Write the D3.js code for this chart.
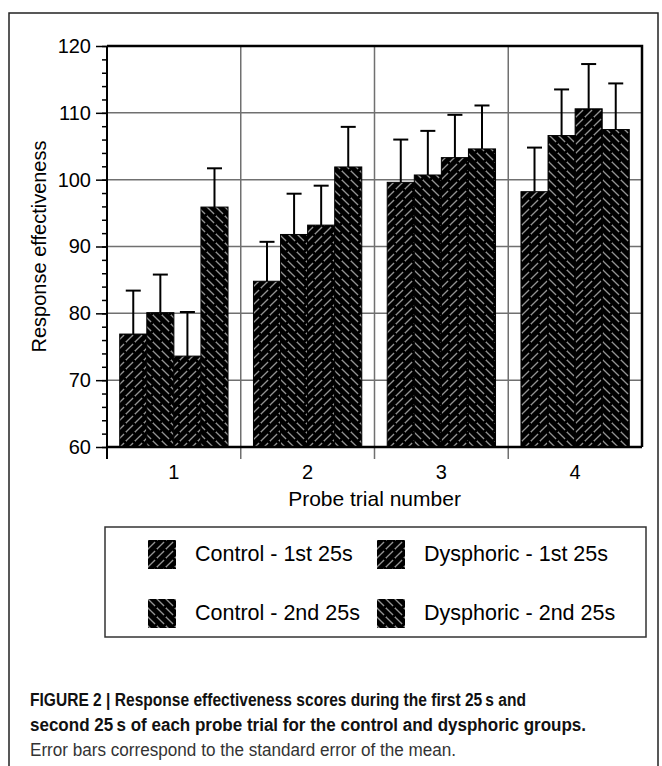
<!DOCTYPE html>
<html>
<head>
<meta charset="utf-8">
<script src="https://cdn.jsdelivr.net/npm/d3@7"></script>
<style>
  body { margin: 0; background: #fff; }
  text { font-family: "Liberation Sans", Arial, Helvetica, sans-serif; }
</style>
</head>
<body>
<div id="chart"></div>
<script>
// data
const groups = ['1', '2', '3', '4']
const seriesNames = ['Control - 1st 25s', 'Control - 2nd 25s', 'Dysphoric - 1st 25s', 'Dysphoric - 2nd 25s']
const control1st = [76.9, 84.8, 99.6, 98.2]
const control2nd = [80.1, 91.8, 100.7, 106.6]
const dysphoric1st = [73.6, 93.2, 103.3, 110.6]
const dysphoric2nd = [95.9, 101.9, 104.6, 107.5]
const control1stErr = [6.5, 5.9, 6.4, 6.6]
const control2ndErr = [5.7, 6.1, 6.6, 6.9]
const dysphoric1stErr = [6.6, 5.9, 6.4, 6.7]
const dysphoric2ndErr = [5.8, 6.0, 6.5, 6.9]
const yTicks = [60, 70, 80, 90, 100, 110, 120]
const captionLines = [
    'FIGURE 2 | Response effectiveness scores during the first 25\u2009s and',
    'second 25\u2009s of each probe trial for the control and dysphoric groups.',
    'Error bars correspond to the standard error of the mean.'
]

const W = 662
const H = 766
const PLOT = { left: 107, right: 642, top: 46, bottom: 447 }

const seriesValues = [control1st, control2nd, dysphoric1st, dysphoric2nd]
const seriesErrors = [control1stErr, control2ndErr, dysphoric1stErr, dysphoric2ndErr]
const seriesPattern = ['fwd', 'back', 'fwd', 'back']

const rows = []
groups.forEach((g, gi) => {
    seriesNames.forEach((s, si) => {
        rows.push({ group: g, series: s, value: seriesValues[si][gi], err: seriesErrors[si][gi], pat: seriesPattern[si] })
    })
})

const svg = d3.select('#chart')
    .append('svg')
    .attr('width', W)
    .attr('height', H)

// hatch patterns
const defs = svg.append('defs')
const hatch = {
    fwd: 'M0,9 L9,0 M-2,2 L2,-2 M7,11 L11,7',
    back: 'M0,0 L9,9 M-2,7 L2,11 M7,-2 L11,2'
}
Object.keys(hatch).forEach(k => {
    const p = defs.append('pattern')
        .attr('id', 'pat-' + k)
        .attr('patternUnits', 'userSpaceOnUse')
        .attr('width', 9)
        .attr('height', 9)
    p.append('rect').attr('width', 9).attr('height', 9).attr('fill', '#000')
    p.append('path')
        .attr('d', hatch[k])
        .attr('stroke', '#949494')
        .attr('stroke-width', 1.3)
        .attr('stroke-dasharray', '10 2.7')
})

// outer frame (open at the bottom)
svg.append('path')
    .attr('d', `M9,${H} L9,13 L658,13 L658,${H}`)
    .attr('fill', 'none')
    .attr('stroke', '#222')
    .attr('stroke-width', 1.5)

const x0 = d3.scaleBand()
    .domain(groups)
    .range([PLOT.left, PLOT.right])
    .padding(0)

const x1 = d3.scaleBand()
    .domain(seriesNames)
    .range([0, x0.bandwidth()])
    .paddingInner(0)
    .paddingOuter(0.47)

const y = d3.scaleLinear()
    .domain([60, 120])
    .range([PLOT.bottom, PLOT.top])

// grid
svg.append('g')
    .selectAll('line')
    .data(yTicks.filter(d => d > 60 && d < 120))
    .join('line')
    .attr('x1', PLOT.left)
    .attr('x2', PLOT.right)
    .attr('y1', d => y(d))
    .attr('y2', d => y(d))
    .attr('stroke', '#707070')
    .attr('stroke-width', 1.5)

svg.append('g')
    .selectAll('line')
    .data(groups.slice(1))
    .join('line')
    .attr('x1', d => x0(d))
    .attr('x2', d => x0(d))
    .attr('y1', PLOT.top)
    .attr('y2', PLOT.bottom + 12)
    .attr('stroke', '#707070')
    .attr('stroke-width', 1.5)

// bars
const bars = svg.append('g')
bars.selectAll('rect')
    .data(rows)
    .join('rect')
    .attr('x', d => x0(d.group) + x1(d.series))
    .attr('width', x1.bandwidth())
    .attr('y', d => y(d.value))
    .attr('height', d => y(60) - y(d.value))
    .attr('fill', d => `url(#pat-${d.pat})`)
    .attr('stroke', '#000')
    .attr('stroke-width', 1)

// error bars (upper half only)
const errG = svg.append('g').attr('stroke', '#000').attr('stroke-width', 2)
errG.selectAll('line.v')
    .data(rows)
    .join('line')
    .attr('class', 'v')
    .attr('x1', d => x0(d.group) + x1(d.series) + x1.bandwidth() / 2)
    .attr('x2', d => x0(d.group) + x1(d.series) + x1.bandwidth() / 2)
    .attr('y1', d => y(d.value))
    .attr('y2', d => y(d.value + d.err))
errG.selectAll('line.cap')
    .data(rows)
    .join('line')
    .attr('class', 'cap')
    .attr('x1', d => x0(d.group) + x1(d.series) + x1.bandwidth() / 2 - 7.5)
    .attr('x2', d => x0(d.group) + x1(d.series) + x1.bandwidth() / 2 + 7.5)
    .attr('y1', d => y(d.value + d.err))
    .attr('y2', d => y(d.value + d.err))

// plot frame: top + right black, bottom axis, left axis
svg.append('path')
    .attr('d', `M${PLOT.left},${PLOT.top} L${PLOT.right},${PLOT.top} L${PLOT.right},${PLOT.bottom}`)
    .attr('fill', 'none')
    .attr('stroke', '#000')
    .attr('stroke-width', 2.5)

svg.append('line')
    .attr('x1', PLOT.left).attr('x2', PLOT.right)
    .attr('y1', PLOT.bottom).attr('y2', PLOT.bottom)
    .attr('stroke', '#000').attr('stroke-width', 2.5)

svg.append('line')
    .attr('x1', PLOT.left).attr('x2', PLOT.left)
    .attr('y1', PLOT.top).attr('y2', PLOT.bottom + 12)
    .attr('stroke', '#000').attr('stroke-width', 2)

// y axis ticks: minor every 2, major every 10
const yAxisMinor = d3.axisLeft(y).ticks(30).tickSize(5).tickFormat('')
svg.append('g')
    .attr('transform', `translate(${PLOT.left},0)`)
    .call(yAxisMinor)
    .call(g => g.select('.domain').remove())
    .call(g => g.selectAll('line').attr('stroke', '#000').attr('stroke-width', 1.5))

const yAxis = d3.axisLeft(y).tickValues(yTicks).tickSize(11).tickPadding(5)
svg.append('g')
    .attr('transform', `translate(${PLOT.left},0)`)
    .call(yAxis)
    .call(g => g.select('.domain').remove())
    .call(g => g.selectAll('line').attr('stroke', '#000').attr('stroke-width', 1.5))
    .call(g => g.selectAll('text')
        .attr('font-size', 20)
        .attr('fill', '#000')
        .attr('font-family', '"Liberation Sans", Arial, sans-serif'))

// x labels
svg.append('g')
    .selectAll('text')
    .data(groups)
    .join('text')
    .attr('x', d => x0(d) + x0.bandwidth() / 2)
    .attr('y', 479)
    .attr('text-anchor', 'middle')
    .attr('font-size', 20)
    .text(d => d)

svg.append('text')
    .attr('x', (PLOT.left + PLOT.right) / 2)
    .attr('y', 506)
    .attr('text-anchor', 'middle')
    .attr('font-size', 21)
    .text('Probe trial number')

svg.append('text')
    .attr('transform', `translate(46,${(PLOT.top + PLOT.bottom) / 2}) rotate(-90)`)
    .attr('text-anchor', 'middle')
    .attr('font-size', 20)
    .text('Response effectiveness')

// legend
const legendOrder = [0, 2, 1, 3]
const legend = svg.append('g')
legend.append('rect')
    .attr('x', 105)
    .attr('y', 527)
    .attr('width', 541)
    .attr('height', 110)
    .attr('fill', 'none')
    .attr('stroke', '#333')
    .attr('stroke-width', 1.5)

const legendItems = legend.selectAll('g.item')
    .data(legendOrder)
    .join('g')
    .attr('class', 'item')
    .attr('transform', (d, i) => `translate(${i % 2 === 0 ? 148 : 377},${i < 2 ? 540 : 599})`)

legendItems.append('rect')
    .attr('width', 28)
    .attr('height', 29)
    .attr('fill', d => `url(#pat-${seriesPattern[d]})`)

legendItems.append('text')
    .attr('x', 47)
    .attr('y', 21)
    .attr('font-size', 21.5)
    .text(d => seriesNames[d])

// caption
const capWidths = [496, 556, 426]
const caption = svg.append('g')
caption.selectAll('text')
    .data(captionLines)
    .join('text')
    .attr('x', 30)
    .attr('y', (d, i) => 706 + i * 25)
    .attr('font-size', 17.5)
    .attr('font-weight', (d, i) => i < 2 ? 'bold' : 'normal')
    .attr('fill', (d, i) => i < 2 ? '#111' : '#333')
    .attr('textLength', (d, i) => capWidths[i])
    .attr('lengthAdjust', 'spacingAndGlyphs')
    .text(d => d)
</script>
</body>
</html>
